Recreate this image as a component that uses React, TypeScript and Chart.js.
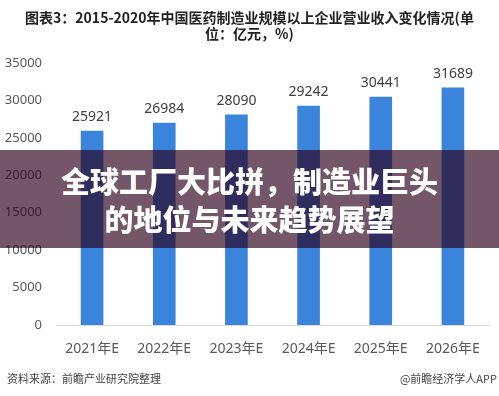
import React, { useEffect, useRef } from "react";
import { Chart, registerables } from "chart.js";

Chart.register(...registerables);

const categories = ["2021年E", "2022年E", "2023年E", "2024年E", "2025年E", "2026年E"];
const revenue = [25921, 26984, 28090, 29242, 30441, 31689];
const yTicks = [0, 5000, 10000, 15000, 20000, 25000, 30000, 35000];
const titleLines = ["图表3：2015-2020年中国医药制造业规模以上企业营业收入变化情况(单", "位：亿元，%)"];
const bannerLines = ["全球工厂大比拼，制造业巨头", "的地位与未来趋势展望"];
const sourceText = "资料来源：前瞻产业研究院整理";
const brandText = "@前瞻经济学人APP";

const FONT = "'Noto Sans', 'Noto Sans CJK SC', sans-serif";

const valueLabels = {
  id: "valueLabels",
  afterDatasetsDraw(chart: any) {
    const ctx = chart.ctx;
    const meta = chart.getDatasetMeta(0);
    ctx.save();
    ctx.font = `14px ${FONT}`;
    ctx.fillStyle = "#404040";
    ctx.textAlign = "center";
    ctx.textBaseline = "middle";
    meta.data.forEach((bar: any, i: number) => {
      ctx.fillText(String(revenue[i]), bar.x, bar.y - 14);
    });
    ctx.restore();
  },
};

export default function App() {
  const ref = useRef<HTMLCanvasElement>(null);
  useEffect(() => {
    if (!ref.current) return;
    const chart = new Chart(ref.current, {
      type: "bar",
      data: {
        labels: categories,
        datasets: [
          {
            data: revenue,
            backgroundColor: "#3a84dc",
            barThickness: 22,
          },
        ],
      },
      options: {
        animation: false,
        responsive: false,
        layout: { padding: { top: 63, left: 0, right: 10, bottom: 31 } },
        plugins: { legend: { display: false }, tooltip: { enabled: false } },
        scales: {
          x: {
            grid: { display: false, drawTicks: false },
            border: { display: true, color: "#d9d9d9", width: 1 },
            ticks: { color: "#595959", font: { family: FONT, size: 14 }, padding: 16, maxRotation: 0 },
            afterFit(scale: any) {
              scale.height = 40;
            },
          },
          y: {
            min: 0,
            max: 35000,
            afterBuildTicks(scale: any) {
              scale.ticks = yTicks.map((v) => ({ value: v }));
            },
            grid: { display: false, drawTicks: false },
            border: { display: false },
            ticks: {
              color: "#595959",
              font: { family: FONT, size: 13 },
              padding: 14,
              callback: (v: any) => String(v),
            },
            afterFit(scale: any) {
              scale.width = 56;
            },
          },
        },
      },
      plugins: [valueLabels],
    });
    return () => chart.destroy();
  }, []);

  return (
    <div
      style={{
        position: "fixed",
        left: 0,
        top: 0,
        width: 499,
        height: 396,
        background: "#ffffff",
        overflow: "hidden",
        fontFamily: FONT,
      }}
    >
      <canvas ref={ref} width={499} height={396} style={{ position: "absolute", left: 0, top: 0 }} />
      <div
        style={{
          position: "absolute",
          left: 0,
          top: 9,
          width: 499,
          textAlign: "center",
          fontFamily: "'Noto Sans CJK SC', sans-serif",
          fontWeight: 700,
          fontSize: 14,
          lineHeight: "16px",
          color: "#222222",
          whiteSpace: "nowrap",
        }}
      >
        {titleLines.map((t, i) => (
          <div key={i}>{t}</div>
        ))}
      </div>
      <div
        style={{
          position: "absolute",
          left: 0,
          top: 150,
          width: 499,
          height: 98,
          background: "rgba(43,0,28,0.66)",
          display: "flex",
          flexDirection: "column",
          justifyContent: "center",
          alignItems: "center",
          color: "#ffffff",
          fontFamily: "'Noto Sans CJK SC', sans-serif",
          fontWeight: 900,
          fontSize: 29,
          lineHeight: "38px",
          whiteSpace: "nowrap",
        }}
      >
        {bannerLines.map((t, i) => (
          <div key={i}>{t}</div>
        ))}
      </div>
      <div
        style={{
          position: "absolute",
          left: 7,
          top: 370,
          fontFamily: "'Noto Sans CJK SC', sans-serif",
          fontSize: 11,
          lineHeight: "16px",
          color: "#444444",
        }}
      >
        {sourceText}
      </div>
      <div
        style={{
          position: "absolute",
          right: 2,
          top: 370,
          fontFamily: "'Noto Sans CJK SC', sans-serif",
          fontSize: 11,
          lineHeight: "16px",
          color: "#444444",
        }}
      >
        {brandText}
      </div>
    </div>
  );
}
